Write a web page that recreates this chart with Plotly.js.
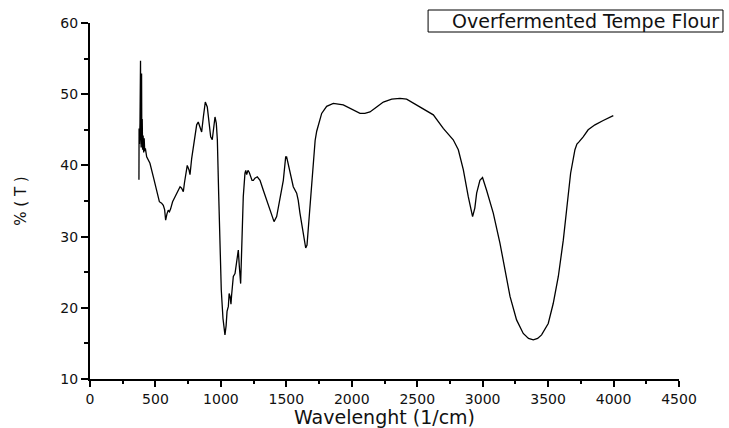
<!DOCTYPE html>
<html>
<head>
<meta charset="utf-8">
<script src="https://cdn.plot.ly/plotly-3.0.1.min.js"></script>
<style>html,body{margin:0;padding:0;background:#fff;}#chart{width:729px;height:428px;}</style>
</head>
<body>
<div id="chart"></div>
<script>
const seriesName = "Overfermented Tempe Flour";
const xTitle = "Wavelenght (1/cm)";
const yTitle = "% ( T )";
const wavenumber = [374,375,378,382,386,388,391,394,396,399,402,406,410,414,418,423,433,458,484,509,530,547,560,570,578,588,598,607,616,631,647,662,675,688,700,713,722,731,743,756,764,777,789,802,815,827,840,853,866,881,896,907,922,934,945,955,965,973,983,993,1003,1016,1025,1031,1040,1047,1057,1063,1070,1077,1082,1095,1108,1120,1133,1141,1151,1161,1171,1184,1190,1197,1207,1217,1227,1238,1248,1260,1278,1299,1324,1350,1375,1406,1426,1451,1477,1495,1502,1507,1528,1553,1579,1591,1604,1617,1630,1648,1658,1668,1681,1693,1706,1720,1732,1752,1770,1808,1859,1935,1999,2063,2100,2139,2190,2241,2305,2340,2368,2419,2483,2546,2623,2699,2775,2814,2852,2890,2923,2940,2954,2979,2999,3030,3081,3132,3170,3209,3259,3310,3350,3387,3420,3450,3501,3539,3578,3616,3641,3672,3705,3720,3736,3768,3806,3858,3921,3998];
const transmittance = [38.0,45.2,43.0,46.0,54.7,44.0,42.5,52.9,43.0,46.5,42.2,44.2,41.8,43.8,42.0,42.4,41.2,40.3,38.4,36.5,34.9,34.7,34.4,33.8,32.3,33.2,33.7,33.5,33.9,34.9,35.5,36.1,36.6,37.0,36.8,36.3,37.6,38.9,40.0,39.4,38.7,41.0,42.6,44.5,45.7,46.1,45.2,44.7,46.8,48.9,48.2,46.4,44.0,43.6,45.0,46.8,45.9,43.6,36.1,28.6,22.5,18.5,16.5,16.2,17.5,19.5,20.2,22.0,21.6,20.5,21.8,24.4,24.8,26.7,28.1,25.8,23.4,29.5,35.6,38.9,39.3,38.7,39.3,39.0,38.4,37.9,37.9,38.2,38.4,37.9,36.5,35.1,33.7,32.1,32.8,35.1,37.9,41.2,41.2,40.8,38.9,37.0,36.1,35.1,33.3,31.8,30.0,28.4,28.8,31.4,33.3,37.9,40.8,43.5,44.8,46.0,47.3,48.3,48.7,48.5,47.9,47.3,47.3,47.5,48.2,48.9,49.3,49.4,49.4,49.3,48.6,48.0,47.1,45.2,43.6,42.2,39.4,35.6,32.8,34.0,36.1,37.9,38.3,36.5,33.3,29.1,25.3,21.6,18.3,16.4,15.7,15.5,15.7,16.2,17.8,20.6,24.4,29.5,33.7,38.9,42.2,43.0,43.3,44.0,45.0,45.7,46.3,47.0];

const FONT = "DejaVu Sans, Verdana, sans-serif";
const trace = {
  x: wavenumber, y: transmittance, type: 'scatter', mode: 'lines',
  name: seriesName, line: {color: '#000', width: 1.3}, showlegend: false
};
const axisCommon = {
  showline: true, linecolor: '#000', linewidth: 2, mirror: false,
  showgrid: false, zeroline: false, ticks: 'outside', ticklen: 6, tickwidth: 2, tickcolor: '#000',
  tickfont: {family: FONT, size: 14, color: '#111'}
};
const layout = {
  width: 729, height: 428,
  margin: {l: 90, r: 50, t: 23, b: 49},
  paper_bgcolor: '#fff', plot_bgcolor: '#fff',
  xaxis: Object.assign({}, axisCommon, {
    range: [0, 4500], dtick: 500, tick0: 0,
    minor: {ticks: 'outside', ticklen: 3, tickwidth: 2, tickcolor: '#000', dtick: 250, showgrid: false},
    title: {text: xTitle, font: {family: FONT, size: 19, color: '#111'}, standoff: 2}
  }),
  yaxis: Object.assign({}, axisCommon, {
    range: [10, 60], dtick: 10, tick0: 0, ticklen: 7,
    minor: {ticks: 'outside', ticklen: 4, tickwidth: 2, tickcolor: '#000', dtick: 5, showgrid: false},
    title: {text: yTitle, font: {family: FONT, size: 15, color: '#111'}, standoff: 30}
  }),
  shapes: [{
    type: 'rect', xref: 'paper', yref: 'paper',
    x0: 0.574, x1: 1.0747, y0: 0.9747, y1: 1.0365,
    line: {color: '#000', width: 1}, fillcolor: '#fff'
  }],
  annotations: [{
    xref: 'paper', yref: 'paper', x: 1.0713, y: 1.0056, xanchor: 'right', yanchor: 'middle',
    text: seriesName, showarrow: false, align: 'left',
    font: {family: FONT, size: 19, color: '#111'}
  }]
};
Plotly.newPlot('chart', [trace], layout, {displayModeBar: false, staticPlot: true});
</script>
</body>
</html>
